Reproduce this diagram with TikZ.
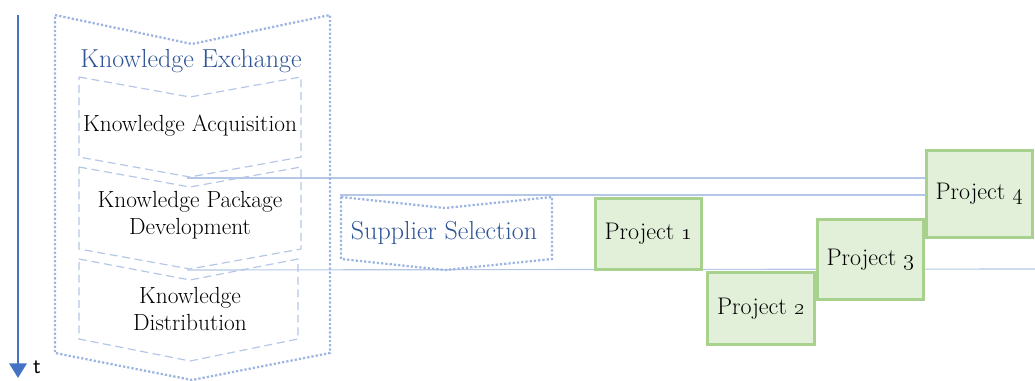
\documentclass[tikz,border=0pt]{standalone}
\usetikzlibrary{arrows.meta,calc}
\definecolor{lblue}{HTML}{B4C7E7}
\definecolor{mblue}{HTML}{9DB5E0}
\definecolor{dblue}{HTML}{2F5597}
\definecolor{ablue}{HTML}{4472C4}
\definecolor{gfill}{HTML}{E2F0D9}
\definecolor{gline}{HTML}{A9D18E}
\pgfdeclarelayer{bg}
\pgfsetlayers{bg,main}
\tikzset{
  outerchev/.style={draw=mblue, line width=1.7pt, dash pattern=on 1.7pt off 1.5pt},
  innerchev/.style={draw=lblue, line width=0.9pt, dash pattern=on 6pt off 3.5pt},
  conn/.style={draw=lblue, line width=0.85pt},
  bigtxt/.style={font=\fontsize{19.5}{23}\selectfont, text=dblue, inner sep=0pt},
  steptxt/.style={font=\fontsize{17.5}{20}\selectfont, align=center, inner sep=0pt},
  proj/.style={draw=gline, fill=gfill, line width=2.2pt, inner sep=0pt,
    font=\fontsize{18}{20}\selectfont},
  timeline/.style={draw=ablue, line width=1.6pt, -{Triangle[width=13pt,length=11pt]}}
}
\begin{document}
\begin{tikzpicture}[x=0.75pt,y=-0.75pt]
\useasboundingbox (0,0) rectangle (1035,381);

% timeline
\coordinate (t0) at (18,15);
\coordinate (t1) at (18,378);
\draw[timeline] (t0) -- (t1);
\node[font=\sffamily\fontsize{17}{20}\selectfont, inner sep=0pt] (tlab) at (37,367) {t};

% outer chevron: Knowledge Exchange
\draw[outerchev] (55,15) -- (192,44) -- (330,15) -- (330,353) -- (192,380) -- (55,353) -- cycle;
\node[bigtxt] (ke) at (191,61) {Knowledge Exchange};

% inner chevrons
\draw[innerchev] (79,77) -- (190,97) -- (301,77) -- (301,157) -- (190,177) -- (79,157) -- cycle;
\node[steptxt] (ka) at (190,126) {Knowledge Acquisition};
\coordinate (kaTip) at (187,178);

\draw[innerchev] (79,167) -- (190,187) -- (301,167) -- (301,249) -- (190,269) -- (79,249) -- cycle;
\node[steptxt] (kpd) at (190,215) {Knowledge Package\\Development};
\coordinate (kpdTip) at (187,270);

\draw[innerchev] (79,259) -- (190,280) -- (298,259) -- (298,339) -- (190,361) -- (79,339) -- cycle;
\node[steptxt] (kd) at (190,309) {Knowledge\\Distribution};

% supplier selection
\draw[outerchev] (341,197) -- (445,208) -- (552,197) -- (552,259) -- (445,270) -- (341,259) -- cycle;
\node[bigtxt] (ss) at (444,233) {Supplier Selection};
\coordinate (ssStart) at (340,195);

% projects
\node[proj, minimum width=80pt, minimum height=53.5pt] (p1) at (648.5,234) {Project \oldstylenums{1}};
\node[proj, minimum width=80.5pt, minimum height=54pt] (p2) at (761,308.5) {Project \oldstylenums{2}};
\node[proj, minimum width=80pt, minimum height=60pt] (p3) at (870.5,259.5) {Project \oldstylenums{3}};
\node[proj, minimum width=80pt, minimum height=65pt] (p4) at (979.5,194) {Project \oldstylenums{4}};
\coordinate (rEnd) at (1035,269);

% connectors, behind the project boxes
\begin{pgfonlayer}{bg}
\draw[conn] (kaTip) -- (kaTip -| p4.west);
\draw[conn] (ssStart) -- (ssStart -| p4.west);
\draw[conn] (kpdTip) -- (rEnd);
\end{pgfonlayer}
\end{tikzpicture}
\end{document}
